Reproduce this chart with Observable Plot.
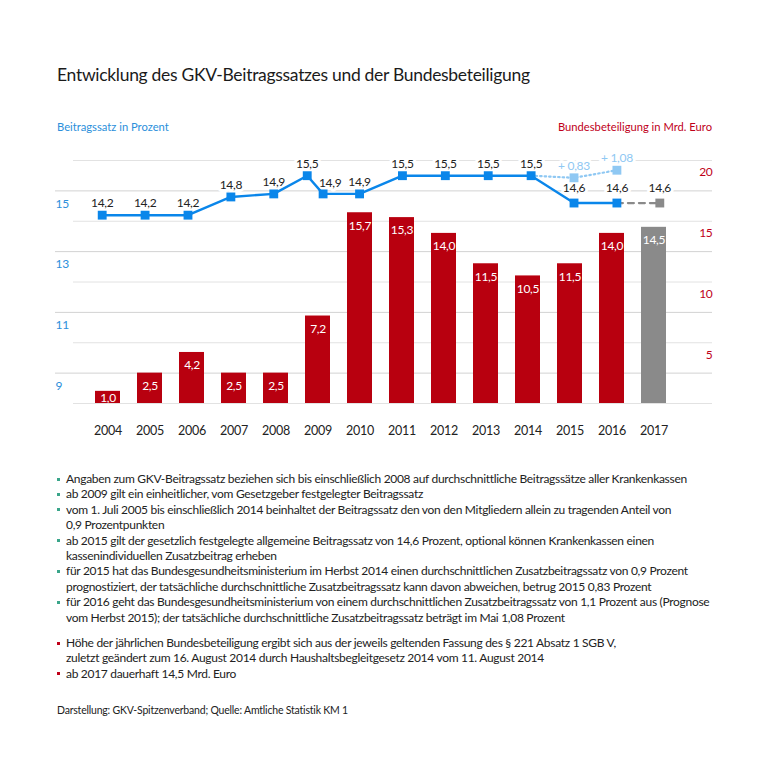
<!DOCTYPE html>
<html>
<head>
<meta charset="utf-8">
<script src="https://cdn.jsdelivr.net/npm/d3@7"></script>
<script src="https://cdn.jsdelivr.net/npm/@observablehq/plot@0.6"></script>
<style>
  body { margin: 0; background: #fff; font-family: Lato, "Open Sans", sans-serif; }
  #page { position: relative; width: 768px; height: 768px; overflow: hidden; }
  .abs { position: absolute; white-space: nowrap; }
  #title { left: 57px; top: 63px; font-size: 17.5px; letter-spacing: -0.3px; line-height: 24px; color: #1b1b1b; }
  #lt { left: 57px; top: 119px; font-size: 11.2px; line-height: 16px; color: #2b8fdb; }
  #rt { right: 56px; top: 119px; font-size: 11.2px; line-height: 16px; color: #c0001a; }
  #chart { left: 0; top: 140px; width: 768px; height: 303px; }
  #chart svg { position: absolute; left: 0; top: 0; }
  #notes { left: 57px; top: 471px; font-size: 12px; letter-spacing: -0.3px; line-height: 15.4px; color: #222; }
  .n { position: relative; padding-left: 9px; }
  .n::before { content: ""; position: absolute; left: 0; top: 6.5px; width: 3px; height: 3px; background: #3aa58a; }
  .n.r::before { background: #c0001a; }
  .gap { height: 10px; }
  #foot { left: 57px; top: 703px; font-size: 10.5px; letter-spacing: -0.2px; line-height: 14px; color: #222; }
</style>
</head>
<body>
<div id="page">
  <div id="title" class="abs">Entwicklung des GKV-Beitragssatzes und der Bundesbeteiligung</div>
  <div id="lt" class="abs">Beitragssatz in Prozent</div>
  <div id="rt" class="abs">Bundesbeteiligung in Mrd. Euro</div>
  <div id="chart" class="abs"></div>
  <div id="notes" class="abs">
    <div class="n">Angaben zum GKV-Beitragssatz beziehen sich bis einschließlich 2008 auf durchschnittliche Beitragssätze aller Krankenkassen</div>
    <div class="n">ab 2009 gilt ein einheitlicher, vom Gesetzgeber festgelegter Beitragssatz</div>
    <div class="n">vom 1. Juli 2005 bis einschließlich 2014 beinhaltet der Beitragssatz den von den Mitgliedern allein zu tragenden Anteil von<br>0,9 Prozentpunkten</div>
    <div class="n">ab 2015 gilt der gesetzlich festgelegte allgemeine Beitragssatz von 14,6 Prozent, optional können Krankenkassen einen<br>kassenindividuellen Zusatzbeitrag erheben</div>
    <div class="n">für 2015 hat das Bundesgesundheitsministerium im Herbst 2014 einen durchschnittlichen Zusatzbeitragssatz von 0,9 Prozent<br>prognostiziert, der tatsächliche durchschnittliche Zusatzbeitragssatz kann davon abweichen, betrug 2015 0,83 Prozent</div>
    <div class="n">für 2016 geht das Bundesgesundheitsministerium von einem durchschnittlichen Zusatzbeitragssatz von 1,1 Prozent aus (Prognose<br>vom Herbst 2015); der tatsächliche durchschnittliche Zusatzbeitragssatz beträgt im Mai 1,08 Prozent</div>
    <div class="gap"></div>
    <div class="n r">Höhe der jährlichen Bundesbeteiligung ergibt sich aus der jeweils geltenden Fassung des § 221 Absatz 1 SGB V,<br>zuletzt geändert zum 16. August 2014 durch Haushaltsbegleitgesetz 2014 vom 11. August 2014</div>
    <div class="n r">ab 2017 dauerhaft 14,5 Mrd. Euro</div>
  </div>
  <div id="foot" class="abs">Darstellung: GKV-Spitzenverband; Quelle: Amtliche Statistik KM 1</div>
</div>
<script>
// ---- data ----
const years = [2004, 2005, 2006, 2007, 2008, 2009, 2010, 2011, 2012, 2013, 2014, 2015, 2016, 2017];
const bundValues = [1.0, 2.5, 4.2, 2.5, 2.5, 7.2, 15.7, 15.3, 14.0, 11.5, 10.5, 11.5, 14.0, 14.5];

// Beitragssatz (2009: two rates, Jan–Jun and from July)
const rateYears = [2004, 2005, 2006, 2007, 2008, 2008.78, 2009.15, 2010, 2011, 2012, 2013, 2014, 2015, 2016];
const rateValues = [14.2, 14.2, 14.2, 14.8, 14.9, 15.5, 14.9, 14.9, 15.5, 15.5, 15.5, 15.5, 14.6, 14.6];

// Beitragssatz incl. average Zusatzbeitrag
const zusatzYears = [2015, 2016];
const zusatzBeitrag = [0.83, 1.08];
const allgemeinerSatz = 14.6;

// 2017 projected rate
const projYears = [2016, 2017];
const projValues = [14.6, 14.6];

const leftTicks = [9, 11, 13, 15];
const rightTicks = [5, 10, 15, 20];

// ---- tables ----
const bars = years.map((year, i) => ({year, value: bundValues[i]}));
const rate = rateYears.map((year, i) => ({year, value: rateValues[i]}));
const zusatz = zusatzYears.map((year, i) => ({year, add: zusatzBeitrag[i], value: allgemeinerSatz + zusatzBeitrag[i]}));
const zusatzPath = [rate[rate.findIndex(d => d.year === 2014)], ...zusatz];
const proj = projYears.map((year, i) => ({year, value: projValues[i]}));

const fmt = v => v.toFixed(1).replace(".", ",");
const fmt2 = v => "+ " + v.toFixed(2).replace(".", ",");

const RED = "#b8000f", GRAY = "#8a8a8a", BLUE = "#0a86ea", LIGHT = "#8fc8f3";
const FONT = "Lato, 'Open Sans', sans-serif";
const common = {
  width: 768, height: 303,
  marginTop: 20, marginBottom: 40, marginLeft: 55, marginRight: 56,
  style: {background: "transparent", fontFamily: FONT, fontSize: "12px", color: "#222", letterSpacing: "-0.3px"}
};
const xLin = {type: "linear", domain: [2004, 2017], range: [101.7, 659.3], axis: null};
const yRate = {domain: [8, 16]};

// layer 1: gridlines of left axis + left labels
const layer1 = Plot.plot({
  ...common,
  x: xLin,
  y: yRate,
  marks: [
    Plot.ruleY(leftTicks, {stroke: "#d2d2d2", strokeWidth: 1}),
    Plot.axisY(leftTicks, {anchor: "left", tickSize: 0, tickPadding: 0, textAnchor: "start", dy: 13, fill: "#2b8fdb", fontSize: 12, label: null})
  ]
});

// layer 2: bars
const layer2 = Plot.plot({
  ...common,
  x: {type: "band", domain: years, range: [89, 672], paddingInner: 0.4, paddingOuter: 0},
  y: {domain: [0, 20]},
  marks: [
    Plot.ruleY([0, ...rightTicks], {stroke: "#e2e2e2", strokeWidth: 1, insetLeft: 18}),
    Plot.barY(bars, {x: "year", y: "value", fill: d => d.year >= 2017 ? GRAY : RED}),
    Plot.text(bars, {x: "year", y: d => Math.max(d.value, 1.5), text: d => fmt(d.value), dy: 13, fill: "white", fontSize: 12}),
    Plot.axisX({tickSize: 0, tickPadding: 23, tickFormat: d => String(d), fontSize: 12.5, fill: "#222", label: null}),
    Plot.axisY(rightTicks, {anchor: "right", tickSize: 0, tickPadding: 0, textAnchor: "end", dy: 12, fill: "#c0001a", fontSize: 12, label: null})
  ]
});

// layer 3: Beitragssatz line
const layer3 = Plot.plot({
  ...common,
  x: xLin,
  y: {...yRate, axis: null},
  marks: [
    Plot.text(rate.filter((d, i) => i !== 6 && d.year < 2015), {x: "year", y: "value", text: d => fmt(d.value), dy: -12, fill: "#222", stroke: "white", strokeWidth: 6, fontSize: 12}),
    Plot.text(rate.filter((d, i) => i === 6), {x: "year", y: "value", text: d => fmt(d.value), dx: 7, dy: -11, fill: "#222", stroke: "white", strokeWidth: 6, fontSize: 12}),
    Plot.text([...rate.filter(d => d.year >= 2015), proj[1]], {x: "year", y: "value", text: d => fmt(d.value), dy: -15, fill: "#222", stroke: "white", strokeWidth: 6, fontSize: 12}),
    Plot.text(zusatz, {x: "year", y: "value", text: d => fmt2(d.add), dy: -12, fill: LIGHT, stroke: "white", strokeWidth: 6, fontSize: 12}),
    Plot.line(zusatzPath, {x: "year", y: "value", stroke: LIGHT, strokeWidth: 2.2, strokeDasharray: "1.5,3", strokeLinecap: "round"}),
    Plot.line(proj, {x: "year", y: "value", stroke: GRAY, strokeWidth: 2.2, strokeDasharray: "6,5"}),
    Plot.line(rate, {x: "year", y: "value", stroke: BLUE, strokeWidth: 2.4}),
    Plot.dot(rate, {x: "year", y: "value", symbol: "square", r: 5, fill: BLUE}),
    Plot.dot(zusatz, {x: "year", y: "value", symbol: "square", r: 5, fill: LIGHT}),
    Plot.dot([proj[1]], {x: "year", y: "value", symbol: "square", r: 5, fill: GRAY})
  ]
});

const chart = document.getElementById("chart");
chart.append(layer1, layer2, layer3);
</script>
</body>
</html>
